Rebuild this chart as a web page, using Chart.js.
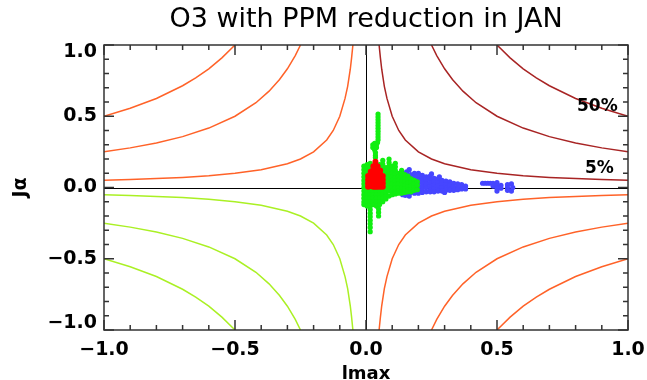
<!DOCTYPE html>
<html>
<head>
<meta charset="utf-8">
<script src="https://cdn.jsdelivr.net/npm/chart.js@4.4.1/dist/chart.umd.min.js"></script>
<style>
    html, body { margin: 0; padding: 0; background: #fff; }
</style>
</head>
<body>
<canvas id="grafico" width="647" height="380"></canvas>
<script>
// textos
const titulo = 'O3 with PPM reduction in JAN';
const tituloX = 'lmax';
const tituloY = 'Jα';
const ticksEje = [-1.0, -0.5, 0.0, 0.5, 1.0];

const curva05 = [[0.05, 1.0], [0.055, 0.91], [0.06, 0.83], [0.07, 0.71], [0.08, 0.625], [0.1, 0.5], [0.125, 0.4],
    [0.15, 0.333], [0.2, 0.25], [0.25, 0.2], [0.3, 0.167], [0.4, 0.125], [0.5, 0.1], [0.6, 0.083], [0.7, 0.071],
    [0.8, 0.0625], [0.9, 0.056], [1.0, 0.05]];
const curva25 = [[0.25, 1.0], [0.27, 0.926], [0.3, 0.833], [0.33, 0.758], [0.37, 0.676], [0.42, 0.595], [0.5, 0.5],
    [0.6, 0.417], [0.7, 0.357], [0.8, 0.3125], [0.9, 0.278], [1.0, 0.25]];
const curva50 = [[0.5, 1.0], [0.55, 0.91], [0.6, 0.833], [0.65, 0.77], [0.7, 0.714], [0.8, 0.625], [0.9, 0.556], [1.0, 0.5]];

// etiquetas de las isolineas
const etiquetasCurvas = ['50%', '5%'];
const etiquetasX = [0.883, 0.891];
const etiquetasY = [0.566, 0.131];

// nubes de puntos, por columnas: [x, [y, y, ...]]
const columnasRojas = [
    [0.008, [0.08, 0.055, 0.03, 0.005]],
    [0.018, [0.11, 0.085, 0.06, 0.035, 0.01]],
    [0.028, [0.15, 0.125, 0.1, 0.075, 0.05, 0.025, 0.005]],
    [0.036, [0.18, 0.155, 0.13, 0.105, 0.08, 0.055, 0.03, 0.005]],
    [0.044, [0.15, 0.125, 0.1, 0.075, 0.05, 0.025, 0.005]],
    [0.054, [0.12, 0.095, 0.07, 0.045, 0.02, 0.005]],
    [0.064, [0.08, 0.055, 0.03, 0.005]]
];
const columnasVerdes = [
    [0.046, [0.515, 0.495, 0.475, 0.455, 0.435, 0.415, 0.395, 0.375, 0.355, 0.335]],
    [0.044, [0.315]],
    [0.026, [0.3, 0.28]],
    [0.033, [0.31, 0.285, 0.265]],
    [0.04, [0.3, 0.28]],
    [0.036, [0.245, 0.225, 0.21]],
    [-0.008, [0.15, 0.125, 0.1, 0.075, 0.05, 0.025, 0.0, -0.025, -0.05, -0.075, -0.1, -0.12]],
    [0.004, [0.16, 0.135, 0.11, -0.025, -0.05, -0.075, -0.1, -0.13]],
    [0.016, [0.17, 0.145, -0.025, -0.05, -0.075, -0.1, -0.13, -0.155, -0.18, -0.205, -0.23, -0.255, -0.28, -0.31]],
    [0.028, [-0.025, -0.05, -0.075, -0.1, -0.12]],
    [0.04, [-0.025, -0.05, -0.075, -0.1, -0.13]],
    [0.048, [-0.15, -0.175, -0.2]],
    [0.052, [0.16, 0.135, -0.025, -0.05, -0.075, -0.1, -0.12]],
    [0.064, [0.19, 0.165, 0.14, 0.115, -0.025, -0.05, -0.075, -0.1]],
    [0.076, [0.14, 0.115, 0.09, 0.065, 0.04, 0.015, -0.01, -0.035, -0.06, -0.08]],
    [0.088, [0.2, 0.175, 0.15, 0.125, 0.1, 0.075, 0.05, 0.025, 0.0, -0.025, -0.06]],
    [0.1, [0.15, 0.125, 0.1, 0.075, 0.05, 0.025, 0.0, -0.025, -0.05]],
    [0.112, [0.17, 0.145, 0.12, 0.095, 0.07, 0.045, 0.02, -0.005, -0.03, -0.045]],
    [0.124, [0.1, 0.075, 0.05, 0.025, 0.0, -0.025, -0.04]],
    [0.136, [0.12, 0.095, 0.07, 0.045, 0.02, -0.005, -0.03, -0.04]],
    [0.148, [0.09, 0.065, 0.04, 0.015, -0.01, -0.035]],
    [0.16, [0.08, 0.055, 0.03, 0.005, -0.02, -0.03]],
    [0.172, [0.06, 0.035, 0.01, -0.015, -0.03]],
    [0.184, [0.05, 0.025, 0.0, -0.02]],
    [0.196, [0.04, 0.015, -0.015]]
];
const columnasAzules = [
    [0.14, [0.1, 0.075, 0.05, 0.025, 0.0, -0.025, -0.05]],
    [0.15, [-0.055]],
    [0.155, [0.11, 0.085, 0.06, 0.035, 0.01, -0.015, -0.04]],
    [0.165, [0.125, -0.06]],
    [0.17, [0.09, 0.065, 0.04, 0.015, -0.01, -0.035]],
    [0.185, [0.1, 0.075, 0.05, 0.025, 0.0, -0.025, -0.04]],
    [0.2, [0.1, 0.08, 0.055, 0.03, 0.005, -0.02, -0.04]],
    [0.215, [0.085, 0.06, 0.035, 0.01, -0.015, -0.035]],
    [0.23, [0.075, 0.05, 0.025, 0.0, -0.03]],
    [0.245, [0.08, 0.055, 0.03, 0.005, -0.02, -0.03]],
    [0.25, [0.095]],
    [0.26, [0.065, 0.04, 0.015, -0.01, -0.03]],
    [0.275, [0.06, 0.035, 0.01, -0.015, -0.025]],
    [0.28, [0.075]],
    [0.29, [0.05, 0.025, 0.0, -0.025]],
    [0.3, [-0.035]],
    [0.305, [0.045, 0.02, -0.005, -0.02]],
    [0.32, [0.04, 0.015, -0.01, -0.02]],
    [0.335, [0.03, 0.005, -0.02]],
    [0.35, [0.025, 0.0, -0.015]],
    [0.365, [0.02, -0.01]],
    [0.38, [0.01, -0.01]],
    [0.445, [0.03]], [0.455, [0.03]], [0.465, [0.03]], [0.475, [0.03]],
    [0.485, [0.03, 0.01]],
    [0.5, [0.035, 0.015, -0.005, -0.025]],
    [0.515, [0.015, -0.005]],
    [0.54, [0.02, 0.0, -0.02]],
    [0.555, [0.025, -0.025]],
    [0.56, [0.0]]
];

const naranja = '#ff6228';
const granate = '#a82424';
const verdeLima = '#aaf024';
const fuente = 'DejaVu Sans';

function aPuntos(lista, sx, sy) {
    return lista.map(p => ({ x: p[0] * sx, y: p[1] * sy }));
}

function deColumnas(columnas) {
    let puntos = [];
    columnas.forEach(c => {
        c[1].forEach(yv => puntos.push({ x: c[0], y: yv }));
    });
    return puntos;
}

function fmt(v) {
    return v.toFixed(1).replace('-', '\u2212');
}

let datasets = [];
const cuadrantes = [
    { sx: -1, sy: 1, color: naranja },
    { sx: 1, sy: -1, color: naranja },
    { sx: -1, sy: -1, color: verdeLima },
    { sx: 1, sy: 1, color: granate }
];
cuadrantes.forEach(c => {
    [curva05, curva25, curva50].forEach(curva => {
        datasets.push({
            data: aPuntos(curva, c.sx, c.sy),
            showLine: true,
            borderColor: c.color,
            borderWidth: 1.5,
            pointRadius: 0,
            fill: false,
            tension: 0,
            order: 3
        });
    });
});
datasets.push({ data: deColumnas(columnasAzules), backgroundColor: '#4646ff', borderWidth: 0, pointRadius: 2.6, order: 2 });
datasets.push({ data: deColumnas(columnasVerdes), backgroundColor: '#11ee11', borderWidth: 0, pointRadius: 2.6, order: 1 });
datasets.push({ data: deColumnas(columnasRojas), backgroundColor: '#ff0000', borderWidth: 0, pointRadius: 3, order: 0 });

// marco con marcas hacia dentro, ejes del cero, titulo y etiquetas
const marcoPlugin = {
    id: 'marco',
    beforeDatasetsDraw(chart) {
        const { ctx, chartArea: a, scales: { x, y } } = chart;
        const x0 = Math.round(x.getPixelForValue(0)) + 0.5;
        const y0 = Math.round(y.getPixelForValue(0)) + 0.5;
        ctx.save();
        ctx.strokeStyle = '#000';
        ctx.lineWidth = 1;
        ctx.beginPath();
        ctx.moveTo(a.left, y0); ctx.lineTo(a.right, y0);
        ctx.moveTo(x0, a.top); ctx.lineTo(x0, a.bottom);
        ctx.stroke();
        ctx.restore();
    },
    afterDatasetsDraw(chart) {
        const { ctx, chartArea: a, scales: { x, y } } = chart;
        ctx.save();
        ctx.strokeStyle = '#333';
        ctx.lineWidth = 1.5;
        ctx.strokeRect(a.left, a.top, a.right - a.left, a.bottom - a.top);
        ctx.beginPath();
        for (let i = -10; i <= 10; i++) {
            const v = i / 10;
            const largo = i % 5 === 0 ? 10 : 5;
            const px = x.getPixelForValue(v);
            const py = y.getPixelForValue(v);
            ctx.moveTo(px, a.bottom); ctx.lineTo(px, a.bottom - largo);
            ctx.moveTo(px, a.top); ctx.lineTo(px, a.top + largo);
            ctx.moveTo(a.left, py); ctx.lineTo(a.left + largo, py);
            ctx.moveTo(a.right, py); ctx.lineTo(a.right - largo, py);
        }
        ctx.stroke();

        ctx.fillStyle = '#000';
        ctx.textAlign = 'center';
        ctx.textBaseline = 'middle';
        ctx.font = 'bold 17px "' + fuente + '"';
        etiquetasCurvas.forEach((t, i) => {
            ctx.fillText(t, x.getPixelForValue(etiquetasX[i]), y.getPixelForValue(etiquetasY[i]));
        });

        ctx.font = '27px "' + fuente + '"';
        ctx.fillText(titulo, (a.left + a.right) / 2, 20);
        ctx.restore();
    }
};

const fuenteTicks = { family: fuente, size: 19, weight: 'bold', lineHeight: 0.75 };

new Chart(document.getElementById('grafico'), {
    type: 'scatter',
    data: { datasets: datasets },
    options: {
        responsive: false,
        animation: false,
        events: [],
        layout: { padding: { left: 0, right: 19, top: 45, bottom: 0 }, autoPadding: false },
        plugins: {
            legend: { display: false },
            tooltip: { enabled: false },
            title: { display: false }
        },
        scales: {
            x: {
                type: 'linear',
                min: -1,
                max: 1,
                afterFit: s => { s.height = 50; s.paddingLeft = 0; s.paddingRight = 0; },
                afterBuildTicks: s => { s.ticks = ticksEje.map(v => ({ value: v })); },
                grid: { display: false, drawTicks: false },
                border: { display: false },
                ticks: { padding: 13, color: '#000', font: fuenteTicks, maxRotation: 0, callback: v => fmt(v) },
                title: {
                    display: true, text: tituloX, color: '#000',
                    font: { family: fuente, size: 18, weight: 'bold', lineHeight: 0.6 },
                    padding: { top: 0, bottom: 0 }
                }
            },
            y: {
                type: 'linear',
                min: -1,
                max: 1,
                afterFit: s => { s.width = 104; s.paddingTop = 0; s.paddingBottom = 0; },
                afterBuildTicks: s => { s.ticks = ticksEje.map(v => ({ value: v })); },
                grid: { display: false, drawTicks: false },
                border: { display: false },
                ticks: {
                    padding: 7, color: '#000', font: fuenteTicks,
                    callback: v => {
                        if (v === 1) return ['', fmt(v)];
                        if (v === -1) return [fmt(v), ''];
                        return fmt(v);
                    }
                },
                title: {
                    display: true, text: tituloY, color: '#000',
                    font: { family: fuente, size: 19, weight: 'bold', lineHeight: 1.2 },
                    padding: { top: 10, bottom: 0 }
                }
            }
        }
    },
    plugins: [marcoPlugin]
});
</script>
</body>
</html>
